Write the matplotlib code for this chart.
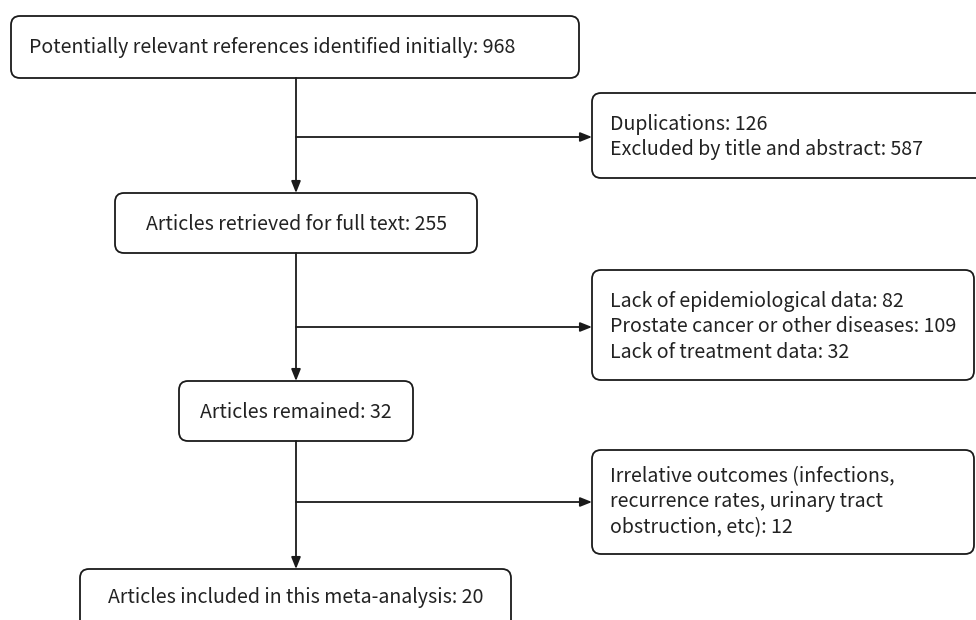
import matplotlib
matplotlib.use("Agg")
import matplotlib.pyplot as plt
from matplotlib.patches import FancyBboxPatch, FancyArrowPatch

plt.rcParams['font.family'] = ['Noto Sans CJK SC', 'DejaVu Sans']

# ---- content ----
main_steps = [
    "Potentially relevant references identified initially: 968",
    "Articles retrieved for full text: 255",
    "Articles remained: 32",
    "Articles included in this meta-analysis: 20",
]
exclusions = [
    ["Duplications: 126", "Excluded by title and abstract: 587"],
    ["Lack of epidemiological data: 82",
     "Prostate cancer or other diseases: 109",
     "Lack of treatment data: 32"],
    ["Irrelative outcomes (infections,",
     "recurrence rates, urinary tract",
     "obstruction, etc): 12"],
]

# ---- layout (pixels, y downward) ----
W, H = 976, 620
main_boxes = [  # x0, y0, x1, y1
    (11, 16, 579, 78),
    (115, 193, 477, 253),
    (179, 381, 413, 441),
    (80, 569, 511, 640),
]
main_text_align = ['left', 'center', 'center', 'center']
main_text_y = [47, 224, 412, 598]
excl_boxes = [
    (592, 93, 990, 178),
    (592, 270, 974, 380),
    (592, 450, 974, 554),
]
branch_y = [137, 327, 502]
spine_x = 296

fig = plt.figure(figsize=(W / 100, H / 100), dpi=100)
ax = fig.add_axes([0, 0, 1, 1])
ax.set_xlim(0, W)
ax.set_ylim(H, 0)
ax.axis('off')

lw = 1.3
col = '#1a1a1a'
tcol = '#222222'
fs = 14.1


def rbox(x0, y0, x1, y1):
    p = FancyBboxPatch((x0, y0), x1 - x0, y1 - y0,
                       boxstyle="round,pad=0,rounding_size=9",
                       fc='white', ec=col, lw=lw, zorder=2)
    ax.add_patch(p)


def arrow(x0, y0, x1, y1):
    a = FancyArrowPatch((x0, y0), (x1, y1), arrowstyle='-|>,head_length=7,head_width=2.8',
                        mutation_scale=1.0, color=col, lw=lw, shrinkA=0, shrinkB=0, zorder=3)
    ax.add_patch(a)


for i, (b, txt) in enumerate(zip(main_boxes, main_steps)):
    rbox(*b)
    if main_text_align[i] == 'left':
        ax.text(b[0] + 18, main_text_y[i], txt, ha='left', va='center',
                fontsize=fs, color=tcol, zorder=4)
    else:
        ax.text(spine_x, main_text_y[i], txt, ha='center', va='center',
                fontsize=fs, color=tcol, zorder=4)

for b, lines, by in zip(excl_boxes, exclusions, branch_y):
    rbox(*b)
    n = len(lines)
    sp = 25.3
    for k, ln in enumerate(lines):
        y = by + (k - (n - 1) / 2) * sp
        ax.text(b[0] + 18, y, ln, ha='left', va='center', fontsize=fs,
                color=tcol, zorder=4)
    arrow(spine_x, by, b[0], by)

# vertical connectors
for a, b in zip(main_boxes[:-1], main_boxes[1:]):
    arrow(spine_x, a[3], spine_x, b[1])

fig.savefig("out.png", dpi=100, facecolor='white')
